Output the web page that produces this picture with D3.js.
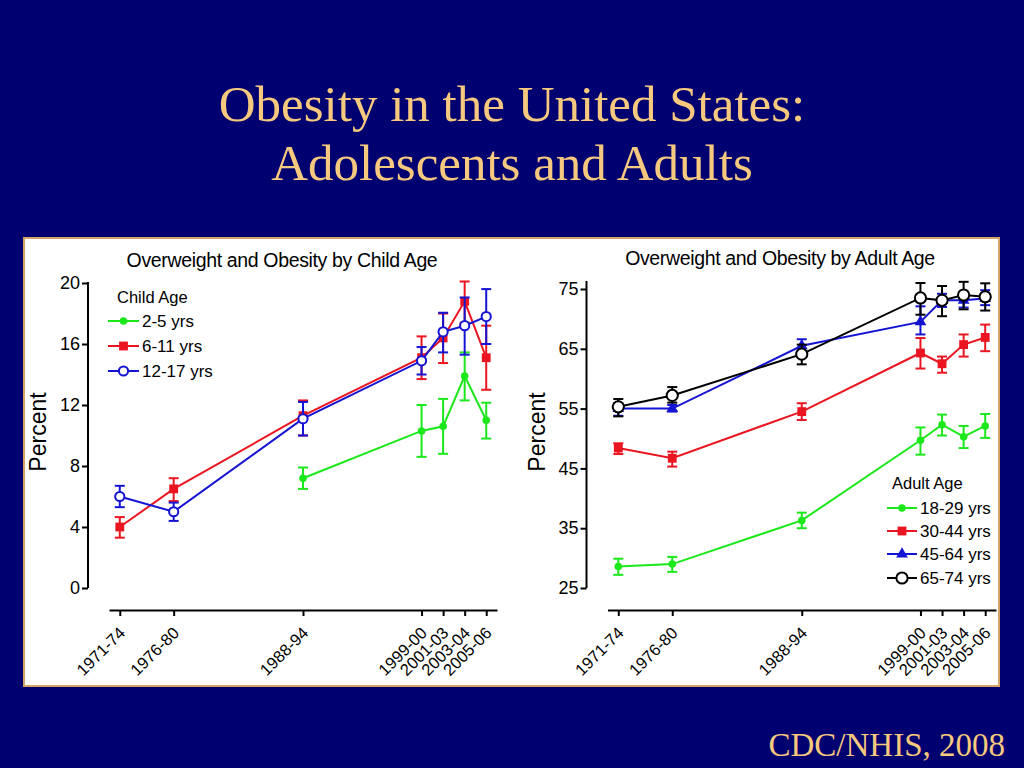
<!DOCTYPE html>
<html>
<head>
<meta charset="utf-8">
<script src="https://cdn.jsdelivr.net/npm/d3@7/dist/d3.min.js"></script>
<style>
  html, body { margin: 0; padding: 0; background: #000070; }
  svg { display: block; }
</style>
</head>
<body>
<svg id="chart" width="1024" height="768"></svg>
<script>
// ---------- DATA ----------
const years = [1971, 1976, 1988, 1999, 2001, 2003, 2005];
const periodLabels = ["1971-74", "1976-80", "1988-94", "1999-00", "2001-03", "2003-04", "2005-06"];

const childTicks = [0, 4, 8, 12, 16, 20];
const adultTicks = [25, 35, 45, 55, 65, 75];

const childNames = ["2-5 yrs", "6-11 yrs", "12-17 yrs"];
const child2to5 = [null, null, 7.2, 10.3, 10.6, 13.9, 11.0];
const child2to5Lo = [null, null, 6.5, 8.6, 8.8, 12.3, 9.8];
const child2to5Hi = [null, null, 7.9, 12.0, 12.4, 15.45, 12.15];
const child6to11 = [4.0, 6.5, 11.3, 15.1, 16.4, 18.8, 15.1];
const child6to11Lo = [3.3, 5.7, 10.0, 13.7, 14.75, 17.4, 13.0];
const child6to11Hi = [4.65, 7.2, 12.3, 16.5, 18.0, 20.1, 17.2];
const child12to17 = [6.0, 5.0, 11.1, 14.9, 16.8, 17.2, 17.8];
const child12to17Lo = [5.3, 4.4, 10.0, 14.0, 15.45, 15.3, 16.0];
const child12to17Hi = [6.7, 5.6, 12.2, 15.8, 18.05, 19.05, 19.6];

const adultNames = ["18-29 yrs", "30-44 yrs", "45-64 yrs", "65-74 yrs"];
const adult18to29 = [28.6, 29.0, 36.3, 49.7, 52.3, 50.3, 52.1];
const adult18to29Lo = [27.2, 27.7, 35.0, 47.3, 50.5, 48.4, 50.1];
const adult18to29Hi = [29.9, 30.2, 37.6, 51.85, 54.0, 52.1, 54.1];
const adult30to44 = [48.4, 46.7, 54.5, 64.3, 62.5, 65.7, 66.9];
const adult30to44Lo = [47.4, 45.3, 53.1, 61.7, 61.0, 63.7, 64.6];
const adult30to44Hi = [49.2, 47.8, 55.9, 66.8, 63.7, 67.4, 69.05];
const adult45to64 = [55.0, 55.0, 65.5, 69.5, 73.1, 73.1, 73.4];
const adult45to64Lo = [53.8, 54.5, 64.5, 67.4, 72.0, 71.9, 72.3];
const adult45to64Hi = [55.9, 55.6, 66.6, 72.1, 74.2, 74.1, 74.8];
const adult65to74 = [55.3, 57.2, 64.1, 73.5, 73.1, 74.0, 73.7];
const adult65to74Lo = [53.7, 56.0, 62.4, 70.7, 70.45, 71.6, 71.4];
const adult65to74Hi = [56.6, 58.6, 65.7, 76.0, 75.5, 76.2, 75.95];

// ---------- STYLE ----------
const GREEN = "#1BE81B", RED = "#EA1520", BLUE = "#1414D2", BLACK = "#000000";
const TITLE_COLOR = "#F7C97E";
const SANS = "'Liberation Sans', Arial, sans-serif";
const SERIF = "'Liberation Serif', 'Times New Roman', serif";

const svg = d3.select("#chart");
svg.append("rect").attr("width", 1024).attr("height", 768).attr("fill", "#000070");

// slide title
svg.append("text").attr("x", 512).attr("y", 121).attr("text-anchor", "middle")
  .attr("font-family", SERIF).attr("font-size", 51).attr("fill", TITLE_COLOR)
  .text("Obesity in the United States:");
svg.append("text").attr("x", 512).attr("y", 180).attr("text-anchor", "middle")
  .attr("font-family", SERIF).attr("font-size", 51).attr("fill", TITLE_COLOR)
  .text("Adolescents and Adults");
svg.append("text").attr("x", 1005).attr("y", 756).attr("text-anchor", "end")
  .attr("font-family", SERIF).attr("font-size", 33).attr("fill", TITLE_COLOR)
  .text("CDC/NHIS, 2008");

// white panel
svg.append("rect").attr("x", 24).attr("y", 238).attr("width", 975).attr("height", 448)
  .attr("fill", "#ffffff").attr("stroke", "#D4A465").attr("stroke-width", 2);

function build(vals, lo, hi) {
  return years.map((yr, i) => ({ yr, v: vals[i], lo: lo[i], hi: hi[i] }));
}

function drawPanel(cfg) {
  const g = svg.append("g");
  const x = d3.scaleLinear().domain([1970, 2006]).range(cfg.xRange);
  const y = d3.scaleLinear().domain(cfg.yDomain).range(cfg.yRange);

  // title
  g.append("text").attr("x", cfg.titleX).attr("y", cfg.titleY).attr("text-anchor", "middle")
    .attr("font-family", SANS).attr("font-size", 19.5).attr("letter-spacing", "-0.35")
    .attr("fill", "#000").text(cfg.title);

  // y axis
  const ya = g.append("g").attr("transform", `translate(${cfg.xRange[0] - cfg.yAxisGap},0)`)
    .call(d3.axisLeft(y).tickValues(cfg.yTicks).tickSize(6).tickSizeOuter(0).tickPadding(2));
  ya.selectAll("path, line").attr("stroke", "#000").attr("stroke-width", 2);
  ya.selectAll("text").attr("font-family", SANS).attr("font-size", 18).attr("fill", "#000");
  ya.select(".domain").attr("d", `M0,${cfg.yRange[0]}V${cfg.yTop}`);

  // y title
  g.append("text")
    .attr("transform", `translate(${cfg.yTitleX},${432}) rotate(-90)`)
    .attr("text-anchor", "middle").attr("font-family", SANS).attr("font-size", 23)
    .attr("fill", "#000").text("Percent");

  // x axis
  const xa = g.append("g").attr("transform", "translate(0,610)")
    .call(d3.axisBottom(x).tickValues(years).tickFormat((d, i) => periodLabels[i])
      .tickSize(6).tickSizeOuter(0));
  xa.selectAll("path, line").attr("stroke", "#000").attr("stroke-width", 2);
  xa.selectAll("text")
    .attr("font-family", SANS).attr("font-size", 16.5).attr("fill", "#000")
    .attr("text-anchor", "end").attr("x", 0).attr("y", 0).attr("dy", 0)
    .attr("transform", "translate(6,24) rotate(-45)");

  // series
  cfg.series.forEach(s => {
    const data = s.data.filter(d => d.v != null);
    const line = d3.line().x(d => x(d.yr)).y(d => y(d.v));
    g.append("path").datum(data).attr("d", line)
      .attr("fill", "none").attr("stroke", s.color).attr("stroke-width", 2);
    // error bars
    const eb = g.append("g").attr("stroke", s.color).attr("stroke-width", 2);
    data.forEach(d => {
      const cx = x(d.yr);
      eb.append("line").attr("x1", cx).attr("x2", cx).attr("y1", y(d.lo)).attr("y2", y(d.hi));
      eb.append("line").attr("x1", cx - 5).attr("x2", cx + 5).attr("y1", y(d.lo)).attr("y2", y(d.lo));
      eb.append("line").attr("x1", cx - 5).attr("x2", cx + 5).attr("y1", y(d.hi)).attr("y2", y(d.hi));
    });
    // markers
    data.forEach(d => drawMarker(g, s, x(d.yr), y(d.v)));
  });

  // legend
  const lg = g.append("g");
  lg.append("text").attr("x", cfg.legend.titleX).attr("y", cfg.legend.titleY)
    .attr("font-family", SANS).attr("font-size", 16.5).attr("fill", "#000").text(cfg.legend.title);
  cfg.series.forEach((s, i) => {
    const ly = cfg.legend.ys[i];
    lg.append("line").attr("x1", cfg.legend.x1).attr("x2", cfg.legend.x2)
      .attr("y1", ly).attr("y2", ly).attr("stroke", s.color).attr("stroke-width", 2);
    drawMarker(lg, s, (cfg.legend.x1 + cfg.legend.x2) / 2, ly);
    lg.append("text").attr("x", cfg.legend.x2 + 3).attr("y", ly).attr("dy", "0.36em")
      .attr("font-family", SANS).attr("font-size", 17).attr("fill", "#000").text(s.name);
  });
}

function drawMarker(g, s, cx, cy) {
  if (s.marker === "dot") {
    g.append("circle").attr("cx", cx).attr("cy", cy).attr("r", 3.8).attr("fill", s.color);
  } else if (s.marker === "square") {
    g.append("path").attr("d", d3.symbol().type(d3.symbolSquare).size(78)())
      .attr("transform", `translate(${cx},${cy})`).attr("fill", s.color);
  } else if (s.marker === "triangle") {
    g.append("path").attr("d", d3.symbol().type(d3.symbolTriangle).size(60)())
      .attr("transform", `translate(${cx},${cy})`).attr("fill", s.color);
  } else if (s.marker === "open") {
    g.append("circle").attr("cx", cx).attr("cy", cy).attr("r", s.r)
      .attr("fill", "#fff").attr("stroke", s.color).attr("stroke-width", 2);
  }
}

drawPanel({
  title: "Overweight and Obesity by Child Age", titleX: 282, titleY: 267,
  xRange: [109, 497], yDomain: [0, 20], yRange: [588, 283], yTop: 282,
  yAxisGap: 21, yTicks: childTicks, yTitleX: 46,
  series: [
    { name: childNames[0], color: GREEN, marker: "dot", data: build(child2to5, child2to5Lo, child2to5Hi) },
    { name: childNames[1], color: RED, marker: "square", data: build(child6to11, child6to11Lo, child6to11Hi) },
    { name: childNames[2], color: BLUE, marker: "open", r: 4.6, data: build(child12to17, child12to17Lo, child12to17Hi) }
  ],
  legend: { title: "Child Age", titleX: 117, titleY: 303, x1: 108, x2: 139, ys: [321, 346, 371] }
});

drawPanel({
  title: "Overweight and Obesity by Adult Age", titleX: 780, titleY: 265,
  xRange: [607.5, 996], yDomain: [25, 75], yRange: [588, 289], yTop: 281,
  yAxisGap: 21, yTicks: adultTicks, yTitleX: 545,
  series: [
    { name: adultNames[0], color: GREEN, marker: "dot", data: build(adult18to29, adult18to29Lo, adult18to29Hi) },
    { name: adultNames[1], color: RED, marker: "square", data: build(adult30to44, adult30to44Lo, adult30to44Hi) },
    { name: adultNames[2], color: BLUE, marker: "triangle", data: build(adult45to64, adult45to64Lo, adult45to64Hi) },
    { name: adultNames[3], color: BLACK, marker: "open", r: 5.6, data: build(adult65to74, adult65to74Lo, adult65to74Hi) }
  ],
  legend: { title: "Adult Age", titleX: 892, titleY: 489, x1: 887, x2: 917, ys: [508, 531, 554, 578] }
});
</script>
</body>
</html>
